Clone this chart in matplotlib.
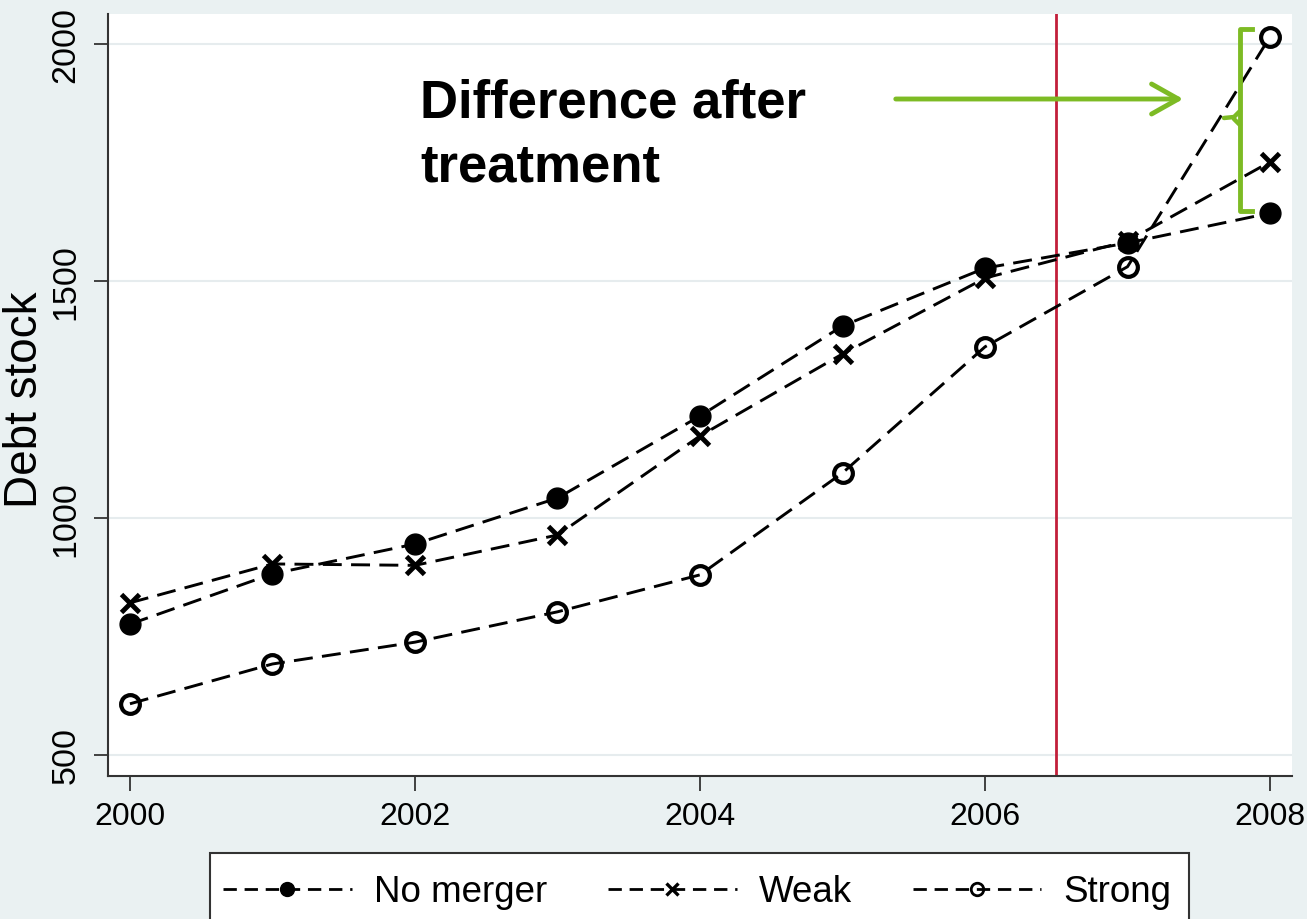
import matplotlib
matplotlib.use("Agg")
import matplotlib.pyplot as plt
from matplotlib.lines import Line2D
from matplotlib.patches import Rectangle, FancyArrowPatch

plt.rcParams['font.family'] = ['Liberation Sans', 'DejaVu Sans']

years = [2000, 2001, 2002, 2003, 2004, 2005, 2006, 2007, 2008]
no_merger = [776, 882, 945, 1042, 1215, 1405, 1527, 1580, 1643]
weak = [821, 903, 900, 964, 1173, 1346, 1506, 1584, 1751]
strong = [608, 692, 738, 802, 880, 1095, 1361, 1530, 2015]
labels = ["No merger", "Weak", "Strong"]
yticks = [500, 1000, 1500, 2000]
xticks = [2000, 2002, 2004, 2006, 2008]
treatment_year = 2006.5

W, H = 1307, 920
fig = plt.figure(figsize=(W / 100, H / 100), dpi=100)
bg = '#eaf1f2'
fig.patch.set_facecolor(bg)

ax = fig.add_axes([108 / W, 1 - 777 / H, (1292 - 108) / W, (777 - 15) / H])
ax.set_facecolor('white')
ax.set_xlim(1999.846, 2008.154)
ax.set_ylim(455.7, 2063)

for v in yticks:
    ax.axhline(v, color='#e6ecee', lw=1.5, zorder=0)

dash = (6.5, 3.2)
lw = 2.1
ax.plot(years, no_merger, color='black', lw=lw, dashes=dash, marker='o',
        markersize=15, markerfacecolor='black', markeredgecolor='black', zorder=3)
ax.plot(years, weak, color='black', lw=lw, dashes=dash, marker='x',
        markersize=13, markeredgewidth=3.5, markeredgecolor='black', zorder=3)
ax.plot(years, strong, color='black', lw=lw, dashes=dash, marker='o',
        markersize=13.5, markerfacecolor='none', markeredgewidth=3,
        markeredgecolor='black', zorder=3)

ax.axvline(treatment_year, color='#c21f3a', lw=2, zorder=2)

for s in ['top', 'right']:
    ax.spines[s].set_visible(False)
for s in ['left', 'bottom']:
    ax.spines[s].set_color('#333333')
    ax.spines[s].set_linewidth(1.5)

ax.set_yticks(yticks)
ax.set_xticks(xticks)
ax.set_yticklabels([str(v) for v in yticks], rotation=90, va='center')
ax.tick_params(axis='y', length=10, width=1.3, color='#333333', pad=9,
               labelsize=24.5)
ax.tick_params(axis='x', length=11, width=1.3, color='#333333', pad=7,
               labelsize=23)

fig.text(25 / W, 1 - 400 / H, 'Debt stock', rotation=90, ha='center',
         va='center', fontsize=33)

# Annotation
green = '#7dbb24'
fig.text(420 / W, 1 - 118 / H, 'Difference after', fontsize=38,
         fontweight='bold', ha='left', va='baseline')
fig.text(420 / W, 1 - 182 / H, 'treatment', fontsize=38,
         fontweight='bold', ha='left', va='baseline')
arrow = FancyArrowPatch((893 / W, 1 - 100 / H), (1186 / W, 1 - 100 / H),
                        transform=fig.transFigure,
                        arrowstyle='->,head_length=1.6,head_width=0.9',
                        color=green, lw=3.5, mutation_scale=12)
fig.patches.append(arrow)

# bracket
def fx(px):
    return px / W
def fy(py):
    return 1 - py / H
bx = 1240
fig.add_artist(Line2D([fx(1252), fx(bx), fx(bx), fx(1252)],
                      [fy(30), fy(30), fy(212), fy(212)],
                      color=green, lw=3.5, solid_joinstyle='round'))
fig.add_artist(Line2D([fx(1224), fx(1234), fx(bx)], [fy(119), fy(118), fy(112)],
                      color=green, lw=3.2, solid_capstyle='round'))
fig.add_artist(Line2D([fx(1234), fx(bx)], [fy(120), fy(126)], color=green, lw=3.2,
                      solid_capstyle='round'))

# Legend
handles = [
    Line2D([], [], color='black', lw=2, dashes=(4.8, 2.8), marker='o', markersize=10,
           markerfacecolor='black', markeredgecolor='black'),
    Line2D([], [], color='black', lw=2, dashes=(4.8, 2.8), marker='x', markersize=8,
           markeredgewidth=2.4, markeredgecolor='black'),
    Line2D([], [], color='black', lw=2, dashes=(4.8, 2.8), marker='o', markersize=9,
           markerfacecolor='none', markeredgewidth=2, markeredgecolor='black'),
]
fig.patches.append(Rectangle((210 / W, -0.02), (1189 - 210) / W, 0.02 + 1 - 854 / H,
                             transform=fig.transFigure, facecolor='white',
                             edgecolor='#333333', lw=1.5, zorder=1))
leg = fig.legend(handles, labels, loc='center left',
                 bbox_to_anchor=(223 / W, 1 - 893 / H), ncol=3, frameon=False,
                 fontsize=26.5, handlelength=3.5, handletextpad=0.6,
                 columnspacing=1.65, borderpad=0, borderaxespad=0)
leg.set_zorder(5)

fig.savefig('out.png', dpi=100, facecolor=bg)
